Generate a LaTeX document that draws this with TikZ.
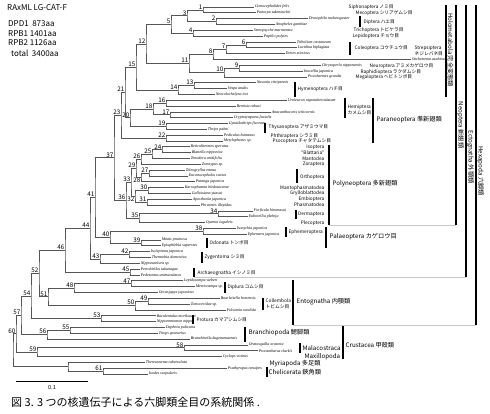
\documentclass[tikz,border=0pt]{standalone}
\usepackage{fontspec}
\setmainfont{Noto Sans CJK JP}
\newfontfamily\tipfont{Liberation Serif}
\usepackage{tikz}
\usetikzlibrary{positioning}
\usepackage{xcolor}
\definecolor{treegrey}{HTML}{555555}
\definecolor{boxgrey}{HTML}{c8c8c8}
\tikzset{
  taxon/.style={anchor=west, inner sep=0.6pt,
                font=\tipfont\itshape\fontsize{4}{4.5}\selectfont},
  branch/.style={draw=treegrey, line width=0.7pt},
  nodenum/.style={font=\fontsize{6.3}{7}\selectfont, inner sep=0.4pt},
  ordlab/.style={anchor=west, inner sep=0.5pt, align=left,
                 font=\fontsize{4.7}{5.4}\selectfont},
  ordlabr/.style={anchor=east, inner sep=0.5pt,
                  font=\fontsize{4.7}{5.4}\selectfont},
  cladelab/.style={anchor=west, inner sep=0.5pt,
                   font=\fontsize{6.2}{7}\selectfont},
  cladebar/.style={draw=black, line width=1.3pt},
  boxline/.style={draw=boxgrey, line width=0.5pt},
  sidelab/.style={rotate=-90, inner sep=0.5pt, font=\fontsize{6.2}{7}\selectfont},
  infotext/.style={anchor=west, inner sep=0pt, font=\fontsize{8}{9}\selectfont},
}

\begin{document}
\begin{tikzpicture}[x=1pt, y=-1pt]
  \useasboundingbox (0,0) rectangle (490,414);

  % --- header: model and alignment ---
  \node[infotext] (model) at (7,8) {RAxML LG-CAT-F};
  \node[infotext] (dpd1) at (8,24) {DPD1\ \ 873aa};
  \node[infotext] (rpb1) at (8,34) {RPB1 1401aa};
  \node[infotext] (rpb2) at (8,43) {RPB2 1126aa};
  \node[infotext] (total) at (11,53) {total\ \ 3400aa};

  % --- taxa ---
  \node[taxon] (t1) at (254,7.0) {Ctenocephalides felis};
  \node[taxon] (t2) at (256,12.8) {Panorpa takenouchii};
  \node[taxon] (t3) at (308,18.7) {Drosophila melanogaster};
  \node[taxon] (t4) at (275,24.5) {Anopheles gambiae};
  \node[taxon] (t5) at (253,30.3) {Stenopsyche marmorata};
  \node[taxon] (t6) at (263,36.1) {Papilio polytes};
  \node[taxon] (t7) at (296,42.0) {Tribolium castaneum};
  \node[taxon] (t8) at (297,47.8) {Lucidina biplagiata};
  \node[taxon] (t9) at (285,53.6) {Eretes sticticus};
  \node[taxon] (t10) at (411,59.4) {Stichotrema asahinai};
  \node[taxon] (t11) at (321,65.3) {Chrysoperla nipponensis};
  \node[taxon] (t12) at (303,71.1) {Inocellia japonica};
  \node[taxon] (t13) at (307,76.9) {Protohermes grandis};
  \node[taxon] (t14) at (256,82.7) {Nasonia vitripennis};
  \node[taxon] (t15) at (227,88.6) {Vespa analis};
  \node[taxon] (t16) at (215,94.4) {Neocolochelyna itoi};
  \node[taxon] (t17) at (287,100.2) {Uroleucon nigrotuberculatum};
  \node[taxon] (t18) at (236,106.0) {Bemisia tabaci};
  \node[taxon] (t19) at (271,111.9) {Anacanthocoris striicornis};
  \node[taxon] (t20) at (233,117.7) {Cryptotympana facialis};
  \node[taxon] (t21) at (228,123.5) {Gynaikothrips ficorum};
  \node[taxon] (t22) at (207,129.3) {Thrips palmi};
  \node[taxon] (t23) at (223,135.2) {Pediculus humanus};
  \node[taxon] (t24) at (223,141.0) {Metylophorus sp.};
  \node[taxon] (t25) at (190,146.8) {Reticulitermes speratus};
  \node[taxon] (t26) at (191,152.6) {Blattella nipponica};
  \node[taxon] (t27) at (190,158.5) {Tenodera aridifolia};
  \node[taxon] (t28) at (201,164.3) {Zorotypus sp.};
  \node[taxon] (t29) at (185,170.1) {Teleogryllus emma};
  \node[taxon] (t30) at (188,175.9) {Euconocephalus varius};
  \node[taxon] (t31) at (195,181.8) {Patanga japonica};
  \node[taxon] (t32) at (184,187.6) {Karoophasma biedouwense};
  \node[taxon] (t33) at (191,193.4) {Galloisiana yuasai};
  \node[taxon] (t34) at (192,199.2) {Aposthonia japonica};
  \node[taxon] (t35) at (200,205.1) {Phraortes illepidus};
  \node[taxon] (t36) at (253,210.9) {Forficula hiromasai};
  \node[taxon] (t37) at (248,216.7) {Euborellia plebeja};
  \node[taxon] (t38) at (205,222.5) {Oyamia lugubris};
  \node[taxon] (t39) at (236,228.4) {Isonychia japonica};
  \node[taxon] (t40) at (247,234.2) {Ephemera japonica};
  \node[taxon] (t41) at (161,240.0) {Mnais pruinosa};
  \node[taxon] (t42) at (161,245.8) {Epiophlebia superstes};
  \node[taxon] (t43) at (150,251.7) {Isolepisma japonica};
  \node[taxon] (t44) at (151,257.5) {Thermobia domestica};
  \node[taxon] (t45) at (140,263.3) {Nipponatelura sp.};
  \node[taxon] (t46) at (140,269.1) {Petrobiellus takunagae};
  \node[taxon] (t47) at (140,275.0) {Pedetontus unimaculatus};
  \node[taxon] (t48) at (183,280.8) {Lepidocampa weberi};
  \node[taxon] (t49) at (195,286.6) {Metriocampa sp.};
  \node[taxon] (t50) at (158,292.4) {Occasjapyx japonicus};
  \node[taxon] (t51) at (220,298.3) {Bourletiella hortensis};
  \node[taxon] (t52) at (190,304.1) {Tomoceridae sp.};
  \node[taxon] (t53) at (226,309.9) {Folsomia candida};
  \node[taxon] (t54) at (156,315.7) {Baculentulus morikawai};
  \node[taxon] (t55) at (156,321.6) {Nipponentomon nippon};
  \node[taxon] (t56) at (165,327.4) {Daphnia pulicaria};
  \node[taxon] (t57) at (158,333.2) {Triops granarius};
  \node[taxon] (t58) at (190,339.0) {Branchinella kugenumaensis};
  \node[taxon] (t59) at (248,344.9) {Oratosquilla oratoria};
  \node[taxon] (t60) at (258,350.7) {Procambarus clarkii};
  \node[taxon] (t61) at (222,356.5) {Cyclops vicinus};
  \node[taxon] (t62) at (145,362.3) {Thereuonema tuberculata};
  \node[taxon] (t63) at (227,368.2) {Psathyropus tenuipes};
  \node[taxon] (t64) at (148,374.0) {Ixodes scapularis};

  % --- internal nodes ---
  \coordinate[label={[nodenum]above left:1}] (n1) at (203,9.9);
  \coordinate[label={[nodenum]above left:2}] (n2) at (216,21.6);
  \coordinate[label={[nodenum]above left:3}] (n3) at (187,15.75);
  \coordinate[label={[nodenum]above left:4}] (n4) at (193,33.2);
  \coordinate[label={[nodenum]above left:5}] (n5) at (171,24.5);
  \coordinate[label={[nodenum]above left:6}] (n6) at (246,44.9);
  \coordinate[label={[nodenum]above left:7}] (n7) at (226,49.25);
  \coordinate[label={[nodenum]above left:8}] (n8) at (213,54.3);
  \coordinate[label={[nodenum]above left:9}] (n9) at (239,68.2);
  \coordinate[label={[nodenum]above left:10}] (n10) at (224,72.55);
  \coordinate[label={[nodenum]above left:11}] (n11) at (189,63.4);
  \coordinate[label={[nodenum]above left:12}] (n12) at (146,43.95);
  \coordinate[label={[nodenum]above left:13}] (n13) at (194,85.65);
  \coordinate[label={[nodenum]above left:14}] (n14) at (178,90.0);
  \coordinate[label={[nodenum]above left:15}] (n15) at (136,67.0);
  \coordinate[label={[nodenum]above left:16}] (n16) at (166,103.1);
  \coordinate[label={[nodenum]above left:17}] (n17) at (170,114.8);
  \coordinate[label={[nodenum]above left:18}] (n18) at (153,108.95);
  \coordinate[label={[nodenum]above left:19}] (n19) at (166,126.4);
  \coordinate[label={[nodenum]above left:20}] (n20) at (130,117.7);
  \coordinate[label={[nodenum]above left:21}] (n21) at (125,92.35);
  \coordinate[label={[nodenum]above left:22}] (n22) at (166,138.1);
  \coordinate[label={[nodenum]above left:23}] (n23) at (121,115.2);
  \coordinate[label={[nodenum]above left:24}] (n24) at (162,149.7);
  \coordinate[label={[nodenum]above left:25}] (n25) at (152,154.1);
  \coordinate[label={[nodenum]above left:26}] (n26) at (141,159.2);
  \coordinate[label={[nodenum]above left:27}] (n27) at (149,173.0);
  \coordinate[label={[nodenum]below left:28}] (n28) at (141,177.4);
  \coordinate[label={[nodenum]above left:29}] (n29) at (136,168.3);
  \coordinate[label={[nodenum]above left:30}] (n30) at (148,190.5);
  \coordinate[label={[nodenum]above left:31}] (n31) at (147,202.15);
  \coordinate[label={[nodenum]below left:32}] (n32) at (135,196.3);
  \coordinate[label={[nodenum]above left:33}] (n33) at (131,182.3);
  \coordinate[label={[nodenum]above left:34}] (n34) at (218,213.8);
  \coordinate[label={[nodenum]above left:35}] (n35) at (139,218.15);
  \coordinate[label={[nodenum]above left:36}] (n36) at (126,200.2);
  \coordinate[label={[nodenum]above left:37}] (n37) at (114,157.7);
  \coordinate[label={[nodenum]above left:38}] (n38) at (203,231.3);
  \coordinate[label={[nodenum]above left:39}] (n39) at (141,242.9);
  \coordinate[label={[nodenum]above left:40}] (n40) at (110,237.1);
  \coordinate[label={[nodenum]above left:41}] (n41) at (95,197.4);
  \coordinate[label={[nodenum]above left:42}] (n42) at (129,254.6);
  \coordinate[label={[nodenum]above left:43}] (n43) at (100,258.95);
  \coordinate[label={[nodenum]above left:44}] (n44) at (90,228.2);
  \coordinate[label={[nodenum]above left:45}] (n45) at (130,272.05);
  \coordinate[label={[nodenum]above left:46}] (n46) at (65,250.1);
  \coordinate[label={[nodenum]above left:47}] (n47) at (131,283.7);
  \coordinate[label={[nodenum]above left:48}] (n48) at (74,288.05);
  \coordinate[label={[nodenum]above left:49}] (n49) at (148,301.2);
  \coordinate[label={[nodenum]above left:50}] (n50) at (135,305.55);
  \coordinate[label={[nodenum]above left:51}] (n51) at (48,296.8);
  \coordinate[label={[nodenum]above left:52}] (n52) at (39,273.45);
  \coordinate[label={[nodenum]above left:53}] (n53) at (101,318.65);
  \coordinate[label={[nodenum]above left:54}] (n54) at (31,296.05);
  \coordinate[label={[nodenum]above left:55}] (n55) at (70,330.3);
  \coordinate[label={[nodenum]above left:56}] (n56) at (47,334.65);
  \coordinate[label={[nodenum]above left:57}] (n57) at (21,315.35);
  \coordinate[label={[nodenum]above left:58}] (n58) at (184,347.8);
  \coordinate[label={[nodenum]above left:59}] (n59) at (37,352.15);
  \coordinate[label={[nodenum]above left:60}] (n60) at (16,333.75);
  \coordinate[label={[nodenum]above left:61}] (n61) at (103,371.1);
  \coordinate (arach) at (68,366.7);
  \coordinate (root) at (13,350.2);

  % --- branches ---
  \draw[branch] (t1.west) -| (n1) |- (t2.west);
  \draw[branch] (t3.west) -| (n2) |- (t4.west);
  \draw[branch] (n1) -| (n3) |- (n2);
  \draw[branch] (t5.west) -| (n4) |- (t6.west);
  \draw[branch] (n3) -| (n5) |- (n4);
  \draw[branch] (t7.west) -| (n6) |- (t8.west);
  \draw[branch] (n6) -| (n7) |- (t9.west);
  \draw[branch] (n7) -| (n8) |- (t10.west);
  \draw[branch] (t11.west) -| (n9) |- (t12.west);
  \draw[branch] (n9) -| (n10) |- (t13.west);
  \draw[branch] (n8) -| (n11) |- (n10);
  \draw[branch] (n5) -| (n12) |- (n11);
  \draw[branch] (t14.west) -| (n13) |- (t15.west);
  \draw[branch] (n13) -| (n14) |- (t16.west);
  \draw[branch] (n12) -| (n15) |- (n14);
  \draw[branch] (t17.west) -| (n16) |- (t18.west);
  \draw[branch] (t19.west) -| (n17) |- (t20.west);
  \draw[branch] (n16) -| (n18) |- (n17);
  \draw[branch] (t21.west) -| (n19) |- (t22.west);
  \draw[branch] (n18) -| (n20) |- (n19);
  \draw[branch] (n15) -| (n21) |- (n20);
  \draw[branch] (t23.west) -| (n22) |- (t24.west);
  \draw[branch] (n21) -| (n23) |- (n22);
  \draw[branch] (t25.west) -| (n24) |- (t26.west);
  \draw[branch] (n24) -| (n25) |- (t27.west);
  \draw[branch] (n25) -| (n26) |- (t28.west);
  \draw[branch] (t29.west) -| (n27) |- (t30.west);
  \draw[branch] (n27) -| (n28) |- (t31.west);
  \draw[branch] (n26) -| (n29) |- (n28);
  \draw[branch] (t32.west) -| (n30) |- (t33.west);
  \draw[branch] (t34.west) -| (n31) |- (t35.west);
  \draw[branch] (n30) -| (n32) |- (n31);
  \draw[branch] (n29) -| (n33) |- (n32);
  \draw[branch] (t36.west) -| (n34) |- (t37.west);
  \draw[branch] (n34) -| (n35) |- (t38.west);
  \draw[branch] (n33) -| (n36) |- (n35);
  \draw[branch] (n23) -| (n37) |- (n36);
  \draw[branch] (t39.west) -| (n38) |- (t40.west);
  \draw[branch] (t41.west) -| (n39) |- (t42.west);
  \draw[branch] (n38) -| (n40) |- (n39);
  \draw[branch] (n37) -| (n41) |- (n40);
  \draw[branch] (t43.west) -| (n42) |- (t44.west);
  \draw[branch] (n42) -| (n43) |- (t45.west);
  \draw[branch] (n41) -| (n44) |- (n43);
  \draw[branch] (t46.west) -| (n45) |- (t47.west);
  \draw[branch] (n44) -| (n46) |- (n45);
  \draw[branch] (t48.west) -| (n47) |- (t49.west);
  \draw[branch] (n47) -| (n48) |- (t50.west);
  \draw[branch] (t51.west) -| (n49) |- (t52.west);
  \draw[branch] (n49) -| (n50) |- (t53.west);
  \draw[branch] (n48) -| (n51) |- (n50);
  \draw[branch] (n46) -| (n52) |- (n51);
  \draw[branch] (t54.west) -| (n53) |- (t55.west);
  \draw[branch] (n52) -| (n54) |- (n53);
  \draw[branch] (t56.west) -| (n55) |- (t57.west);
  \draw[branch] (n55) -| (n56) |- (t58.west);
  \draw[branch] (n54) -| (n57) |- (n56);
  \draw[branch] (t59.west) -| (n58) |- (t60.west);
  \draw[branch] (n58) -| (n59) |- (t61.west);
  \draw[branch] (n57) -| (n60) |- (n59);
  \draw[branch] (t63.west) -| (n61) |- (t64.west);
  \draw[branch] (t62.west) -| (arach) |- (n61);
  \draw[branch] (n60) -| (root) |- (arach);

  % --- box closing lines ---
  \draw[boxline] (329,225) -- (456,225);
  \draw[boxline] (194,277) -- (466,277);
  \draw[boxline] (293,325) -- (476,325);

  % --- clade bars ---
  \draw[cladebar] (360,16) -- (360,27);
  \draw[cladebar] (350,42) -- (350,55);
  \draw[cladebar] (295,82) -- (295,97);
  \draw[cladebar] (345,98) -- (345,118);
  \draw[cladebar] (373,98) -- (373,143);
  \draw[cladebar] (265,123) -- (265,133);
  \draw[cladebar] (297,169) -- (297,183);
  \draw[cladebar] (296,210) -- (296,219);
  \draw[cladebar] (329,145) -- (329,225);
  \draw[cladebar] (286,227) -- (286,237);
  \draw[cladebar] (326,227) -- (326,248);
  \draw[cladebar] (207,238) -- (207,248);
  \draw[cladebar] (202,252) -- (202,263);
  \draw[cladebar] (194,268) -- (194,277);
  \draw[cladebar] (225,282) -- (225,293);
  \draw[cladebar] (263,298) -- (263,310);
  \draw[cladebar] (293,280) -- (293,325);
  \draw[cladebar] (193,315) -- (193,324);
  \draw[cladebar] (245,327) -- (245,342);
  \draw[cladebar] (300,343) -- (300,353);
  \draw[cladebar] (343,326) -- (343,359);
  \draw[cladebar] (267,367) -- (267,377);
  \draw[cladebar] (446,5) -- (446,97);
  \draw[cladebar] (456,5) -- (456,225);
  \draw[cladebar] (466,5) -- (466,277);
  \draw[cladebar] (476,5) -- (476,325);

  % --- order labels ---
  \node[ordlab] (siph) at (348,7) {Siphonaptera ノミ目};
  \node[ordlab] (meco) at (355,13) {Mecoptera シリアゲムシ目};
  \node[ordlab] (dipt) at (363,22) {Diptera ハエ目};
  \node[ordlab] (tric) at (353,30) {Trichoptera トビケラ目};
  \node[ordlab] (lepi) at (352,36) {Lepidoptera チョウ目};
  \node[ordlab] (cole) at (354,48) {Coleoptera コウチュウ目};
  \node[ordlab] (stre) at (414,51) {Strepsiptera\\ネジレバネ目};
  \node[ordlab] (neur) at (369,66) {Neuroptera アミメカゲロウ目};
  \node[ordlab] (raph) at (360,72) {Raphidioptera ラクダムシ目};
  \node[ordlab] (mega) at (355,77) {Megaloptera ヘビトンボ目};
  \node[ordlab] (hyme) at (297,89) {Hymenoptera ハチ目};
  \node[ordlab] (hemi) at (347,110) {Hemiptera\\カメムシ目};
  \node[ordlab] (thys) at (268,127) {Thysanoptera アザミウマ目};
  \node[ordlab] (phth) at (270,136) {Phthiraptera シラミ目};
  \node[ordlab] (psoc) at (272,141) {Psocoptera チャタテムシ目};
  \node[ordlabr] (isop) at (325,147) {Isoptera};
  \node[ordlabr] (blat) at (325,153) {“Blattaria”};
  \node[ordlabr] (mant) at (325,159) {Mantodea};
  \node[ordlabr] (zora) at (325,164) {Zoraptera};
  \node[ordlabr] (orth) at (325,177) {Orthoptera};
  \node[ordlabr] (mtph) at (325,188) {Mantophasmatodea};
  \node[ordlabr] (gryl) at (325,193) {Grylloblattodea};
  \node[ordlabr] (embi) at (325,199) {Embioptera};
  \node[ordlabr] (phas) at (325,205) {Phasmatodea};
  \node[ordlabr] (derm) at (325,214) {Dermaptera};
  \node[ordlabr] (plec) at (325,223) {Plecoptera};
  \node[ordlab] (ephe) at (288,232) {Ephemeroptera};
  \node[ordlab] (odon) at (209,243) {Odonata トンボ目};
  \node[ordlab] (zyge) at (204,257) {Zygentoma シミ目};
  \node[ordlab] (arch) at (197,273) {Archaeognatha イシノミ目};
  \node[ordlab] (dipl) at (227,287) {Diplura コムシ目};
  \node[ordlab] (coll) at (265,304) {Collembola\\トビムシ目};
  \node[ordlab] (prot) at (196,320) {Protura カマアシムシ目};

  % --- higher clade labels ---
  \node[cladelab] (para) at (376,120) {Paraneoptera 準新翅類};
  \node[cladelab] (poly) at (332,184) {Polyneoptera 多新翅類};
  \node[cladelab] (pala) at (329,237) {Palaeoptera カゲロウ目};
  \node[cladelab] (ento) at (296,302) {Entognatha 内顎類};
  \node[cladelab] (bran) at (248,333) {Branchiopoda 鰓脚類};
  \node[cladelab] (mala) at (302,348) {Malacostraca};
  \node[cladelab] (maxi) at (304,357) {Maxillopoda};
  \node[cladelab] (crus) at (345,345) {Crustacea 甲殻類};
  \node[cladelab] (myri) at (269,364) {Myriapoda 多足類};
  \node[cladelab] (chel) at (268,372) {Chelicerata 鋏角類};
  \node[sidelab] (holo) at (450.5,50) {Holometabola 完全変態類};
  \node[sidelab] (neop) at (460.5,125) {Neoptera 新翅類};
  \node[sidelab] (ecto) at (470.5,157) {Ectognatha 外顎類};
  \node[sidelab] (hexa) at (480.5,171) {Hexapoda 六脚類};

  % --- scale bar and caption ---
  \coordinate (sb0) at (16,381);
  \coordinate (sb1) at (88,381);
  \draw[draw=black, line width=0.7pt] (sb0) -- (sb1);
  \node[font=\fontsize{5.5}{6}\selectfont, inner sep=0.5pt] (sblab) at (52,387.5) {0.1};
  \node[anchor=west, inner sep=0pt, font=\fontsize{11}{12}\selectfont] (caption) at (11,402)
       {図 3. 3 つの核遺伝子による六脚類全目の系統関係 .};

\end{tikzpicture}
\end{document}
